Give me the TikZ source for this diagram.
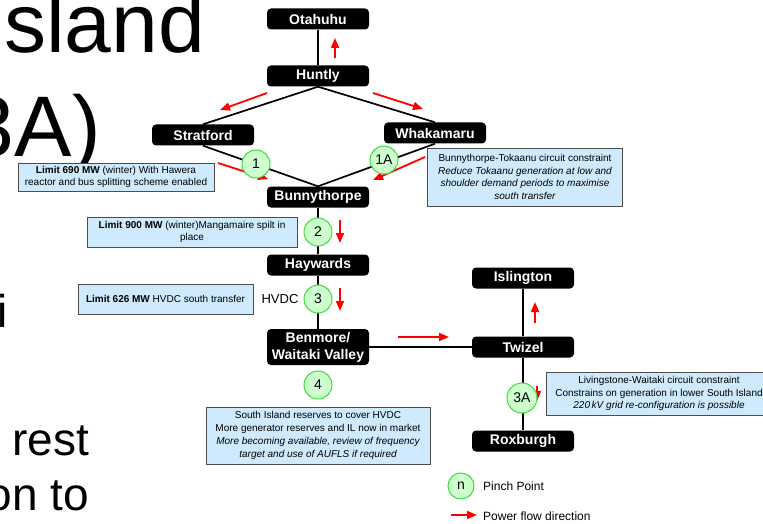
\documentclass[tikz,border=0pt]{standalone}
\usepackage{fontspec}
\setmainfont{Liberation Sans}
\usetikzlibrary{arrows.meta}

\definecolor{notefill}{RGB}{206,234,252}
\definecolor{pinchfill}{RGB}{206,255,206}
\definecolor{pinchdraw}{RGB}{60,220,60}
\definecolor{flowred}{RGB}{255,0,0}

\tikzset{
  station/.style={fill=black, rounded corners=4pt, text=white,
    font=\bfseries\fontsize{14}{17}\selectfont,
    minimum width=102pt, minimum height=21pt, inner sep=0pt, align=center},
  link/.style={line width=1.7pt},
  flow/.style={flowred, line width=1.8pt, -{Triangle[length=10pt,width=8pt]}},
  pinch/.style={circle, fill=pinchfill, draw=pinchdraw, line width=1pt,
    minimum size=28pt, inner sep=0pt, font=\fontsize{14}{14}\selectfont},
  note/.style={fill=notefill, draw=black!70, line width=0.9pt, inner sep=0pt,
    align=center, font=\fontsize{10}{12.8}\selectfont},
  slide/.style={inner sep=0pt, text=black}
}

\begin{document}
\begin{tikzpicture}[x=1pt, y=-1pt]
  \clip (0,0) rectangle (763,524);
  \fill[white] (0,0) rectangle (763,524);

  % slide text behind the diagram
  \node[slide, anchor=base west, font=\fontsize{84}{84}\selectfont] (s1) at (4,53) {sland};
  \node[slide, anchor=base east, font=\fontsize{86}{86}\selectfont] (s2) at (101,157) {3A)};
  \node[slide, anchor=base west, font=\fontsize{46}{46}\selectfont] (s3) at (-3,327) {i};
  \node[slide, anchor=base west, font=\fontsize{46}{46}\selectfont] (s4) at (12,455) {rest};
  \node[slide, anchor=base east, font=\fontsize{46}{46}\selectfont] (s5) at (89,510) {on to};

  % stations
  \node[station] (ota) at (318,19)  {Otahuhu};
  \node[station] (hun) at (318,76)  {Huntly};
  \node[station] (str) at (203,135) {Stratford};
  \node[station] (wha) at (435,133) {Whakamaru};
  \node[station] (bun) at (318,197) {Bunnythorpe};
  \node[station] (hay) at (318,265) {Haywards};
  \node[station, minimum height=36pt] (ben) at (318,347) {Benmore/\\Waitaki Valley};
  \node[station] (isl) at (523,278) {Islington};
  \node[station] (twi) at (523,347) {Twizel};
  \node[station] (rox) at (523,441) {Roxburgh};

  % circuits
  \draw[link] (ota.south) -- (hun.north);
  \draw[link] (hun.south) -- (str.north);
  \draw[link] (hun.south) -- (wha.north);
  \draw[link] (str.south) -- (bun.north);
  \draw[link] (wha.south) -- (bun.north);
  \draw[link] (bun.south) -- (hay.north);
  \draw[link] (hay.south) -- (ben.north);
  \draw[link] (ben.east) -- (twi.west);
  \draw[link] (twi.north) -- (isl.south);
  \draw[link] (twi.south) -- (rox.north);

  % power flow directions
  \draw[flow] (335,58) -- (335,38);
  \draw[flow] (267,93) -- (220,110);
  \draw[flow] (373,93) -- (423,109);
  \draw[flow] (218,163) -- (268,179);
  \draw[flow] (425,157) -- (373,180);
  \draw[flow] (340,220) -- (340,243);
  \draw[flow] (340,288) -- (340,311);
  \draw[flow] (398,337) -- (449,337);
  \draw[flow] (535,323) -- (535,302);
  \draw[flow] (537,386) -- (537,401);

  % pinch points
  \node[pinch] (p1)  at (256,164) {1};
  \node[pinch] (p1a) at (384,160) {1A};
  \node[pinch] (p2)  at (318,232) {2};
  \node[pinch] (p3)  at (318,299) {3};
  \node[pinch] (p4)  at (318,385) {4};
  \node[pinch, minimum size=30pt] (p3a) at (522,398) {3A};

  \node[font=\fontsize{13}{13}\selectfont, inner sep=0pt] (hvdc) at (280,299) {HVDC};

  % constraint notes
  \node[note, minimum width=196pt, minimum height=28pt] (n1) at (116,177)
    {{\bfseries Limit 690 MW} (winter) With Hawera\\reactor and bus splitting scheme enabled};
  \node[note, minimum width=210pt, minimum height=30pt] (n2) at (192,232)
    {{\bfseries Limit 900 MW} (winter)Mangamaire spilt in\\place};
  \node[note, minimum width=175pt, minimum height=30pt] (n3) at (165.5,299)
    {{\bfseries Limit 626 MW} HVDC south transfer};
  \node[note, minimum width=195pt, minimum height=58pt] (n4) at (525,177)
    {Bunnythorpe-Tokaanu circuit constraint\\\itshape Reduce Tokaanu generation at low and\\\itshape shoulder demand periods to maximise\\\itshape south transfer};
  \node[note, minimum width=224pt, minimum height=57pt] (n5) at (318,435.5)
    {South Island reserves to cover HVDC\\More generator reserves and IL now in market\\\itshape More becoming available, review of frequency\\\itshape target and use of AUFLS if required};
  \node[note, minimum width=226pt, minimum height=43pt] (n6) at (659,393.5)
    {Livingstone-Waitaki circuit constraint\\Constrains on generation in lower South Island\\\itshape 220\,kV grid re-configuration is possible};

  % legend
  \node[pinch, minimum size=26pt] (lg) at (461,486) {n};
  \node[anchor=west, inner sep=0pt, font=\fontsize{12}{12}\selectfont] (lgt) at (483,486) {Pinch Point};
  \coordinate (lfa) at (451,515);
  \coordinate (lfb) at (477,515);
  \draw[flow] (lfa) -- (lfb);
  \node[anchor=west, inner sep=0pt, font=\fontsize{12}{12}\selectfont] (lft) at (483,516) {Power flow direction};
\end{tikzpicture}
\end{document}
